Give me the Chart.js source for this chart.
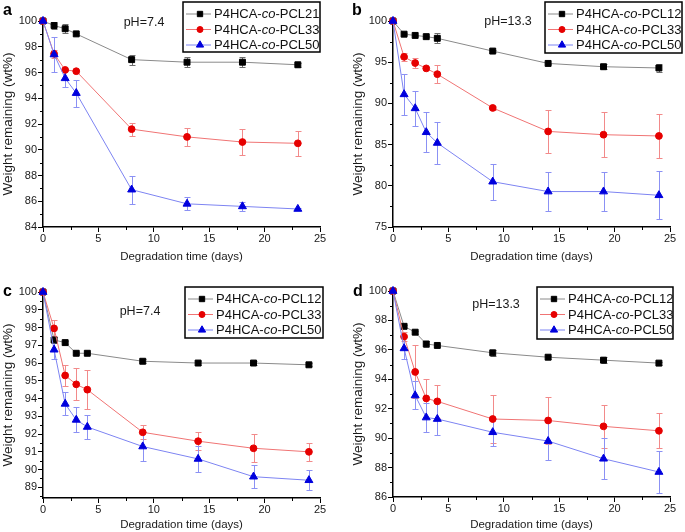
<!DOCTYPE html>
<html>
<head>
<meta charset="utf-8">
<script src="https://cdn.jsdelivr.net/npm/chart.js@4.4.0/dist/chart.umd.min.js"></script>
<style>
html, body { margin: 0; padding: 0; background: #fff; }
#wrap { position: relative; width: 685px; height: 532px; overflow: hidden; }
canvas { position: absolute; }
</style>
</head>
<body>
<div id="wrap">
	<canvas id="cA" width="340" height="265" style="left:0;top:0"></canvas>
	<canvas id="cB" width="345" height="265" style="left:340px;top:0"></canvas>
	<canvas id="cC" width="340" height="267" style="left:0;top:265px"></canvas>
	<canvas id="cD" width="345" height="267" style="left:340px;top:265px"></canvas>
</div>
<script>
// ---- data ----
var daysA = [0, 1, 2, 3, 8, 13, 18, 23];
var daysBCD = [0, 1, 2, 3, 4, 9, 14, 19, 24];

var labelsA = ['P4HCA-co-PCL21', 'P4HCA-co-PCL33', 'P4HCA-co-PCL50'];
var labelsBCD = ['P4HCA-co-PCL12', 'P4HCA-co-PCL33', 'P4HCA-co-PCL50'];

// panel a, pH 7.4
var a21 = [100, 99.65, 99.4, 99.0, 97.0, 96.8, 96.8, 96.6];
var a21Err = [0, 0.3, 0.35, 0.1, 0.38, 0.4, 0.4, 0.15];
var a33 = [100, 97.45, 96.2, 96.1, 91.6, 91.0, 90.6, 90.5];
var a33Err = [0, 0.3, 0.1, 0.1, 0.5, 0.72, 1.0, 0.95];
var a50 = [100, 97.4, 95.55, 94.4, 86.9, 85.8, 85.6, 85.4];
var a50Err = [0, 1.35, 0.7, 1.05, 1.1, 0.5, 0.35, 0.1];

// panel b, pH 13.3
var b12 = [100, 98.4, 98.25, 98.1, 97.9, 96.35, 94.85, 94.45, 94.3];
var b12Err = [0, 0.1, 0.1, 0.1, 0.6, 0.15, 0.1, 0.3, 0.5];
var b33 = [100, 95.65, 94.9, 94.25, 93.55, 89.45, 86.6, 86.2, 86.05];
var b33Err = [0, 0.45, 0.6, 0.15, 1.1, 0.25, 2.65, 2.7, 2.7];
var b50 = [100, 91.1, 89.4, 86.5, 85.2, 80.5, 79.3, 79.3, 78.85];
var b50Err = [0, 2.5, 2.15, 2.4, 2.55, 2.2, 2.4, 2.4, 2.9];

// panel c, pH 7.4
var c12 = [100, 97.3, 97.15, 96.55, 96.55, 96.1, 96.0, 96.0, 95.9];
var c12Err = [0, 0.15, 0.1, 0.05, 0.05, 0.1, 0.1, 0.1, 0.08];
var c33 = [100, 97.95, 95.3, 94.8, 94.5, 92.1, 91.6, 91.2, 91.0];
var c33Err = [0, 0.45, 0.6, 0.9, 1.1, 0.4, 0.5, 0.8, 0.5];
var c50 = [100, 96.75, 93.7, 92.8, 92.4, 91.3, 90.6, 89.6, 89.4];
var c50Err = [0, 0.5, 0.65, 0.7, 0.65, 0.8, 0.75, 0.65, 0.55];

// panel d, pH 13.3
var d12 = [100, 97.6, 97.2, 96.4, 96.3, 95.8, 95.5, 95.3, 95.1];
var d12Err = [0, 0.1, 0.1, 0.2, 0.1, 0.2, 0.1, 0.2, 0.1];
var d33 = [100, 96.9, 94.5, 92.7, 92.5, 91.3, 91.2, 90.8, 90.5];
var d33Err = [0, 0.3, 1.8, 1.3, 1.1, 1.6, 1.6, 1.45, 1.2];
var d50 = [100, 96.1, 92.9, 91.4, 91.3, 90.4, 89.8, 88.6, 87.7];
var d50Err = [0, 0.75, 0.95, 1.0, 1.1, 0.9, 1.3, 1.4, 1.4];

var xTicks = [0, 5, 10, 15, 20, 25];
var yTicksA = [84, 86, 88, 90, 92, 94, 96, 98, 100];
var yTicksB = [75, 80, 85, 90, 95, 100];
var yTicksC = [89, 90, 91, 92, 93, 94, 95, 96, 97, 98, 99, 100];
var yTicksD = [86, 88, 90, 92, 94, 96, 98, 100];

// ---- styles ----
var FONT = '"Liberation Sans", Arial, sans-serif';
Chart.defaults.font.family = FONT;
Chart.defaults.color = '#1a1a1a';

var looks = [
	{ line: '#8a8a8a', mark: '#000000', err: '#6e6e6e', shape: 'rect', r: 4.2 },
	{ line: '#f07474', mark: '#e60000', err: '#f28a8a', shape: 'circle', r: 3.4 },
	{ line: '#7d84f2', mark: '#0000dd', err: '#8b91f4', shape: 'triangle', r: 4.6 }
];

// error bars drawn under the lines and markers
var errorBars = {
	id: 'errorBars',
	beforeDatasetsDraw: function(chart) {
		var ctx = chart.ctx, sx = chart.scales.x, sy = chart.scales.y;
		chart.data.datasets.forEach(function(ds) {
			ctx.save();
			ctx.strokeStyle = ds.errColor;
			ctx.lineWidth = 1;
			ctx.beginPath();
			ds.data.forEach(function(p, i) {
				var e = ds.errs[i];
				if (!e) return;
				var px = Math.round(sx.getPixelForValue(p.x)) + 0.5;
				var top = Math.round(sy.getPixelForValue(p.y + e)) + 0.5;
				var bot = Math.round(sy.getPixelForValue(p.y - e)) + 0.5;
				ctx.moveTo(px, top); ctx.lineTo(px, bot);
				ctx.moveTo(px - 3, top); ctx.lineTo(px + 3, top);
				ctx.moveTo(px - 3, bot); ctx.lineTo(px + 3, bot);
			});
			ctx.stroke();
			ctx.restore();
		});
	}
};

// small ticks halfway between the major ones
var minorTicks = {
	id: 'minorTicks',
	afterDraw: function(chart) {
		var ctx = chart.ctx, area = chart.chartArea;
		ctx.save();
		ctx.strokeStyle = '#000';
		ctx.lineWidth = 1;
		ctx.beginPath();
		['x', 'y'].forEach(function(id) {
			var s = chart.scales[id];
			var t = s.ticks.map(function(k) { return k.value; });
			var step = t[1] - t[0];
			for (var v = t[0] - step / 2; v < s.max; v += step) {
				if (v < s.min) continue;
				var p = Math.round(s.getPixelForValue(v)) + 0.5;
				if (id === 'x') { ctx.moveTo(p, area.bottom); ctx.lineTo(p, area.bottom + 3); }
				else { ctx.moveTo(area.left, p); ctx.lineTo(area.left - 3, p); }
			}
		});
		ctx.stroke();
		ctx.restore();
	}
};

function drawMarker(ctx, shape, r, x, y) {
	ctx.beginPath();
	if (shape === 'rect') {
		var h = r * Math.SQRT1_2;
		ctx.rect(x - h, y - h, 2 * h, 2 * h);
	} else if (shape === 'circle') {
		ctx.arc(x, y, r, 0, Math.PI * 2);
	} else {
		ctx.moveTo(x, y - r);
		ctx.lineTo(x + r * 0.866, y + r * 0.5);
		ctx.lineTo(x - r * 0.866, y + r * 0.5);
		ctx.closePath();
	}
	ctx.fill();
	ctx.stroke();
}

// legend box, panel letter and pH note
var notes = {
	id: 'notes',
	afterDraw: function(chart, args, o) {
		var ctx = chart.ctx, b = o.box;
		ctx.save();
		ctx.fillStyle = '#fff';
		ctx.fillRect(b.x, b.y, b.w, b.h);
		ctx.lineWidth = 1.5;
		ctx.strokeStyle = '#000';
		ctx.strokeRect(b.x, b.y, b.w, b.h);
		chart.data.datasets.forEach(function(ds, i) {
			var ry = b.y + 12 + i * 15.5;
			var lk = looks[i];
			ctx.strokeStyle = lk.line;
			ctx.lineWidth = 1;
			ctx.beginPath();
			ctx.moveTo(b.x + 3, ry); ctx.lineTo(b.x + 28, ry);
			ctx.stroke();
			ctx.fillStyle = lk.mark;
			ctx.strokeStyle = lk.mark;
			drawMarker(ctx, lk.shape, lk.r - 0.4, b.x + 17, ry);
			// label with italic "co"
			var parts = ds.label.split('-co-');
			var runs = [[parts[0] + '-', ''], ['co', 'italic '], ['-' + parts[1], '']];
			var tx = b.x + 31;
			ctx.fillStyle = '#111';
			ctx.textBaseline = 'middle';
			ctx.textAlign = 'left';
			runs.forEach(function(r) {
				ctx.font = r[1] + '13px ' + FONT;
				ctx.fillText(r[0], tx, ry + 0.5);
				tx += ctx.measureText(r[0]).width;
			});
		});
		ctx.fillStyle = '#000';
		ctx.textBaseline = 'alphabetic';
		ctx.font = 'bold 16px ' + FONT;
		ctx.fillText(o.letter.text, o.letter.x, o.letter.y);
		ctx.fillStyle = '#1a1a1a';
		ctx.textAlign = 'center';
		ctx.textBaseline = 'middle';
		ctx.font = '12.5px ' + FONT;
		ctx.fillText(o.ph.text, o.ph.x, o.ph.y);
		ctx.restore();
	}
};

function series(days, ys, errs, label, i) {
	var lk = looks[i];
	return {
		label: label,
		data: days.map(function(d, k) { return { x: d, y: ys[k] }; }),
		errs: errs,
		errColor: lk.err,
		showLine: true,
		borderColor: lk.line,
		borderWidth: 1,
		pointStyle: lk.shape,
		pointRadius: lk.r,
		pointBackgroundColor: lk.mark,
		pointBorderColor: lk.mark,
		pointBorderWidth: 1,
		clip: false,
		order: 3 - i
	};
}

function makePanel(id, p) {
	var canvas = document.getElementById(id);
	var W = canvas.width, H = canvas.height;
	new Chart(canvas.getContext('2d'), {
		type: 'scatter',
		data: { datasets: p.datasets },
		plugins: [errorBars, minorTicks, notes],
		options: {
			responsive: false,
			animation: false,
			events: [],
			layout: { padding: { left: 0, top: p.area.top, right: W - p.area.right, bottom: 0 } },
			scales: {
				x: {
					type: 'linear',
					min: 0, max: 25,
					afterFit: function(s) { s.height = H - p.area.bottom; },
					afterBuildTicks: function(s) { s.ticks = xTicks.map(function(v) { return { value: v }; }); },
					grid: { drawOnChartArea: false, drawTicks: true, tickLength: 5, color: '#000', lineWidth: 1 },
					border: { display: true, color: '#000', width: 1.5 },
					ticks: { padding: 0, font: { size: 11 }, color: '#1a1a1a' },
					title: { display: true, text: 'Degradation time (days)', font: { size: 11.5 }, padding: { top: 0, bottom: p.xTitlePad }, color: '#1a1a1a' }
				},
				y: {
					type: 'linear',
					min: p.yMin, max: 100,
					afterFit: function(s) { s.width = p.area.left; },
					afterBuildTicks: function(s) { s.ticks = p.yTicks.map(function(v) { return { value: v }; }); },
					grid: { drawOnChartArea: false, drawTicks: true, tickLength: 5, color: '#000', lineWidth: 1 },
					border: { display: true, color: '#000', width: 1.5 },
					ticks: { padding: 1, font: { size: 11 }, color: '#1a1a1a' },
					title: { display: true, text: 'Weight remaining (wt%)', font: { size: 13.5 }, padding: { top: p.yTitlePad, bottom: 0 }, color: '#1a1a1a' }
				}
			},
			plugins: {
				legend: { display: false },
				tooltip: { enabled: false },
				notes: { box: p.box, letter: p.letter, ph: p.ph }
			}
		}
	});
}

makePanel('cA', {
	datasets: [
		series(daysA, a21, a21Err, labelsA[0], 0),
		series(daysA, a33, a33Err, labelsA[1], 1),
		series(daysA, a50, a50Err, labelsA[2], 2)
	],
	area: { left: 43, right: 320, top: 21, bottom: 227 },
	yMin: 84, yTicks: yTicksA, xTitlePad: 1, yTitlePad: 0,
	box: { x: 183, y: 2, w: 137, h: 50 },
	letter: { text: 'a', x: 3, y: 15 },
	ph: { text: 'pH=7.4', x: 144, y: 23 }
});

makePanel('cB', {
	datasets: [
		series(daysBCD, b12, b12Err, labelsBCD[0], 0),
		series(daysBCD, b33, b33Err, labelsBCD[1], 1),
		series(daysBCD, b50, b50Err, labelsBCD[2], 2)
	],
	area: { left: 53, right: 330, top: 21, bottom: 227 },
	yMin: 75, yTicks: yTicksB, xTitlePad: 1, yTitlePad: 10,
	box: { x: 205, y: 2, w: 137, h: 51 },
	letter: { text: 'b', x: 12, y: 15 },
	ph: { text: 'pH=13.3', x: 168, y: 22 }
});

makePanel('cC', {
	datasets: [
		series(daysBCD, c12, c12Err, labelsBCD[0], 0),
		series(daysBCD, c33, c33Err, labelsBCD[1], 1),
		series(daysBCD, c50, c50Err, labelsBCD[2], 2)
	],
	area: { left: 43, right: 320, top: 27, bottom: 233 },
	yMin: 88.4, yTicks: yTicksC, xTitlePad: 0, yTitlePad: 0,
	box: { x: 185, y: 22, w: 138, h: 51 },
	letter: { text: 'c', x: 3, y: 31 },
	ph: { text: 'pH=7.4', x: 140, y: 47 }
});

makePanel('cD', {
	datasets: [
		series(daysBCD, d12, d12Err, labelsBCD[0], 0),
		series(daysBCD, d33, d33Err, labelsBCD[1], 1),
		series(daysBCD, d50, d50Err, labelsBCD[2], 2)
	],
	area: { left: 53, right: 330, top: 26, bottom: 232 },
	yMin: 86, yTicks: yTicksD, xTitlePad: 0, yTitlePad: 10,
	box: { x: 197, y: 22, w: 136, h: 52 },
	letter: { text: 'd', x: 13, y: 31 },
	ph: { text: 'pH=13.3', x: 156, y: 40 }
});
</script>
</body>
</html>
